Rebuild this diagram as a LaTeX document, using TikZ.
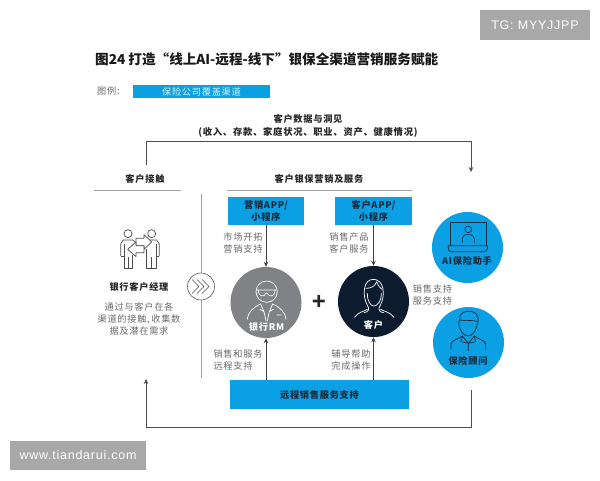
\documentclass[tikz,border=0pt]{standalone}
\usepackage{fontspec}
\setmainfont{Liberation Sans}
\newfontfamily\cjk{Noto Sans CJK SC}
\newfontfamily\cjks[LetterSpace=8]{Noto Sans CJK SC}
\newfontfamily\wm[LetterSpace=6]{Liberation Sans}
\usetikzlibrary{arrows.meta}
\definecolor{brandblue}{HTML}{0B9FE3}
\definecolor{inkdark}{HTML}{1B2A3A}
\definecolor{midgray}{HTML}{808285}
\definecolor{txtgray}{HTML}{6A6A6A}
\definecolor{rulegray}{HTML}{A0A0A0}
\definecolor{wmgray}{HTML}{A8A8A8}
\definecolor{nightblue}{HTML}{0C1C2E}
\tikzset{
  lbl/.style={font=\cjks\fontsize{9.2}{12}\selectfont,text=txtgray,align=center,inner sep=0pt},
  head/.style={font=\cjks\bfseries\fontsize{9.2}{12}\selectfont,text=black!85,align=center,inner sep=0pt},
  bluebox/.style={fill=brandblue,draw=none,inner sep=0pt,font=\cjks\bfseries\fontsize{9.2}{12.5}\selectfont,text=inkdark,align=center},
  bigcirc/.style={circle,minimum size=71pt,inner sep=0pt,draw=none},
  arr/.style={draw=black!75,line width=0.8pt,-{Stealth[length=5pt,width=4.5pt]}},
  feed/.style={draw=black!70,line width=0.9pt},
  rulel/.style={draw=rulegray,line width=0.9pt},
  iconw/.style={draw=white,line width=0.7pt,line join=round,line cap=round},
  icond/.style={draw=inkdark,line width=0.7pt,line join=round,line cap=round},
}
\begin{document}
\begin{tikzpicture}[x=1pt,y=-1pt]
\useasboundingbox[fill=white] (0,0) rectangle (600,480);
% title and legend
\node[inner sep=0pt,anchor=west,font=\cjk\bfseries\fontsize{13.6}{16}\selectfont,text=black!90] (title) at (95,59) {图24 打造“线上AI-远程-线下”银保全渠道营销服务赋能};
\node[lbl,anchor=west] (legendlbl) at (97,91) {图例:};
\node[bluebox,minimum width=137pt,minimum height=13pt,text=white!85!brandblue,font=\cjks\fontsize{9.2}{12}\selectfont] (legend) at (201.5,91.5) {保险公司覆盖渠道};
% top text
\node[head] (data) at (308,126) {客户数据与洞见\\[0.5pt]{\fontsize{9.3}{12}\selectfont(收入、存款、家庭状况、职业、资产、健康情况)}};
\node[head] (touch) at (145,179) {客户接触};
\node[head] (svc) at (319,179) {客户银保营销及服务};
\coordinate (r1a) at (94,190); \coordinate (r1b) at (181,190);
\coordinate (r2a) at (227,190); \coordinate (r2b) at (412,190);
\draw[rulel] (r1a) -- (r1b);
\draw[rulel] (r2a) -- (r2b);
% vertical divider and chevrons
\coordinate (va) at (201,194); \coordinate (vb) at (201,378);
\draw[rulel] (va) -- (vb);
\node[circle,draw=black!65,fill=white,line width=0.6pt,minimum size=27pt,inner sep=0pt] (chev) at (201,286.5) {};
\foreach \d in {0,5,10}{
  \draw[black!70,line width=0.6pt] ([xshift=\d pt-9pt,yshift=7pt]chev.center) -- ([xshift=\d pt-2pt]chev.center) -- ([xshift=\d pt-9pt,yshift=-7pt]chev.center);
}
% left column
\node[head] (bcm) at (139,287) {银行客户经理};
\node[lbl,font=\cjks\fontsize{9.2}{12.2}\selectfont] (bcmtxt) at (139,319) {通过与客户在各\\渠道的接触,\,收集数\\据及潜在需求};
\begin{scope}[shift={(80,180)},x=0.3333pt,y=-0.3333pt,black!70,line width=0.7pt,line join=round]
\draw (144,161) circle[radius=12];
\draw (215,161) circle[radius=12];
\draw (122,228) -- (122,192) -- (130,180) -- (158,180) -- (170,190);
\draw (132,192) -- (132,265) -- (157,265) -- (157,226);
\draw (145,232) -- (145,265);
\draw (122,228) -- (132,228);
\draw (238,228) -- (238,192) -- (230,180) -- (200,180) -- (192,175);
\draw (228,192) -- (228,265) -- (200,265) -- (200,208);
\draw (214,232) -- (214,265);
\draw (238,228) -- (228,228);
\draw[fill=white] (215,186) -- (192,164) -- (192,175) -- (168,175) -- (168,197) -- (192,197) -- (192,208) -- cycle;
\draw[fill=white] (143,208) -- (168,186) -- (168,197) -- (192,197) -- (192,218) -- (168,218) -- (168,230) -- cycle;
\end{scope}
% blue boxes
\node[bluebox,minimum width=76pt,minimum height=28pt] (app1) at (266,211) {营销APP/\\小程序};
\node[bluebox,minimum width=77pt,minimum height=28pt] (app2) at (373.5,211) {客户APP/\\小程序};
\node[bluebox,minimum width=179pt,minimum height=29pt] (remote) at (319.5,394.5) {远程销售服务支持};
% circles
\node[bigcirc,fill=midgray] (rm) at (266,302.5) {};
\node[bigcirc,fill=nightblue] (cust) at (373.5,301.5) {};
\node[bigcirc,fill=brandblue] (ai) at (467.5,247.5) {};
\node[bigcirc,fill=brandblue] (adv) at (468.5,342.5) {};
\node[inner sep=0pt,font=\bfseries\fontsize{24}{24}\selectfont,text=black!85] (plus) at (319,302) {+};
% RM icon
\begin{scope}[shift={(80,180)},x=0.3333pt,y=-0.3333pt]
\draw[iconw] (560,335) circle[radius=32];
\draw[iconw] (529,330) -- (591,330) (535,330) .. controls (535,352) and (553,352) .. (558,340) -- (562,340) .. controls (567,352) and (585,352) .. (585,330);
\draw[iconw] (502,418) .. controls (505,395) and (520,382) .. (542,372) (618,418) .. controls (615,395) and (600,382) .. (578,372);
\draw[iconw] (542,372) -- (552,395) -- (558,422) (578,372) -- (568,395) -- (562,422) (540,388) -- (552,395) (580,388) -- (568,395) (590,405) -- (604,405);
\end{scope}
\node[inner sep=0pt,font=\cjks\bfseries\fontsize{9.2}{12}\selectfont,text=white] (rmt) at (266.5,327) {银行RM};
% customer icon
\begin{scope}[shift={(280,180)},x=0.3333pt,y=-0.3333pt]
\draw[iconw] (263,378) .. controls (245,345) and (250,298) .. (280,298) .. controls (312,298) and (318,345) .. (300,378);
\draw[iconw] (258,325) .. controls (275,325) and (285,318) .. (290,305) .. controls (295,318) and (300,325) .. (306,328);
\draw[iconw] (262,340) .. controls (262,365) and (272,378) .. (282,378) .. controls (292,378) and (304,365) .. (304,340);
\draw[iconw] (224,412) .. controls (235,395) and (252,395) .. (262,388) (342,412) .. controls (330,395) and (312,395) .. (302,388);
\draw[iconw] (263,378) .. controls (270,385) and (265,398) .. (252,398) (300,378) .. controls (293,385) and (298,398) .. (311,398);
\end{scope}
\node[inner sep=0pt,font=\cjks\bfseries\fontsize{9.2}{12}\selectfont,text=white] (custt) at (373.5,325) {客户};
% AI icon
\begin{scope}[shift={(280,180)},x=0.3333pt,y=-0.3333pt]
\draw[icond] (510,196) -- (510,128) -- (618,128) -- (618,196);
\draw[icond] (505,197) -- (622,197) -- (622,206) .. controls (622,212) and (618,215) .. (612,215) -- (515,215) .. controls (509,215) and (505,212) .. (505,206) -- cycle;
\draw[icond] (565,148) circle[radius=10];
\draw[icond] (547,188) -- (547,175) .. controls (547,166) and (555,164) .. (565,164) .. controls (575,164) and (583,166) .. (583,175) -- (583,188);
\end{scope}
\node[inner sep=0pt,font=\cjks\bfseries\fontsize{9.2}{12}\selectfont,text=inkdark] (ait) at (467,261) {AI保险助手};
% advisor icon
\begin{scope}[shift={(280,180)},x=0.3333pt,y=-0.3333pt]
\draw[icond] (540,420) .. controls (535,395) and (560,392) .. (575,394) .. controls (595,398) and (598,420) .. (592,432) .. controls (588,455) and (575,468) .. (565,468) .. controls (552,468) and (540,455) .. (537,435) .. controls (535,425) and (538,420) .. (540,420);
\draw[icond] (540,420) .. controls (560,425) and (580,418) .. (592,425);
\draw[icond] (513,508) -- (513,492) .. controls (515,480) and (535,478) .. (547,468) (617,508) -- (617,492) .. controls (615,480) and (595,478) .. (583,468);
\draw[icond] (547,468) -- (565,490) -- (583,468) (565,490) -- (565,512) (547,468) -- (543,485) -- (565,490) -- (587,485) -- (583,468);
\end{scope}
\node[inner sep=0pt,font=\cjks\bfseries\fontsize{9.2}{12}\selectfont,text=inkdark] (advt) at (468,361) {保险顾问};
% connector labels
\node[lbl] (l1) at (243,243) {市场开拓\\营销支持};
\node[lbl,align=left] (l2) at (238,360) {销售和服务\\远程支持};
\node[lbl] (l3) at (349,243) {销售产品\\客户服务};
\node[lbl] (l4) at (351,360) {辅导帮助\\完成操作};
\node[lbl] (l5) at (432.5,295) {销售支持\\服务支持};
% connectors
\draw[arr] (app1) -- (rm);
\draw[arr] (app2) -- (cust);
\draw[arr] (remote.north -| rm) -- (rm);
\draw[arr] (remote.north -| cust) -- (cust);
\coordinate (fa) at (146,165); \coordinate (fb) at (146,141); \coordinate (fc) at (471,141); \coordinate (fd) at (471,172);
\draw[feed,-{Stealth[length=5pt,width=4.5pt]}] (fa) -- (fb) -- (fc) -- (fd);
\coordinate (ga) at (471,390); \coordinate (gb) at (471,427); \coordinate (gc) at (146,427); \coordinate (gd) at (146,379);
\draw[feed,-{Stealth[length=5pt,width=4.5pt]}] (ga) -- (gb) -- (gc) -- (gd);
% watermarks
\node[fill=wmgray,minimum width=136pt,minimum height=29.5pt,inner sep=0pt,text=white,font=\wm\fontsize{12.5}{14}\selectfont] (wm1) at (78,455.5) {www.tiandarui.com};
\node[fill=wmgray,minimum width=110pt,minimum height=30pt,inner sep=0pt,text=white,font=\wm\fontsize{12.5}{14}\selectfont] (wm2) at (535,25) {TG: MYYJJPP};
\end{tikzpicture}
\end{document}
